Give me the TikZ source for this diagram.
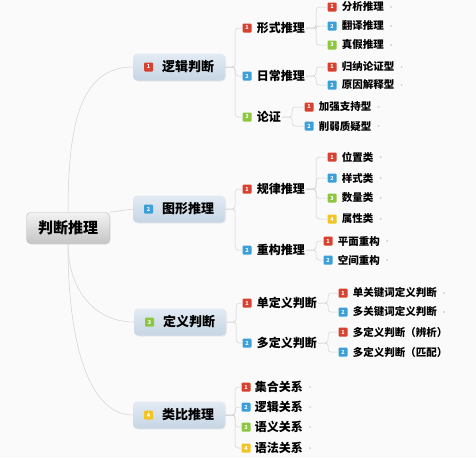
\documentclass[tikz,border=0pt]{standalone}
\usepackage{fontspec}
\setmainfont{Noto Sans CJK SC}[BoldFont={Noto Sans CJK SC Black}]
\usetikzlibrary{positioning,shadows}
\definecolor{iconred}{HTML}{D8412F}
\definecolor{iconblue}{HTML}{3B9FD9}
\definecolor{icongreen}{HTML}{8DC63F}
\definecolor{iconyellow}{HTML}{F2C524}
\definecolor{topictop}{HTML}{E3EBF4}
\definecolor{topicbot}{HTML}{C6D5E4}

\begin{document}
\begin{tikzpicture}[x=1pt,y=-1pt,
	root/.style={draw=gray!55, rounded corners=4pt, top color=gray!10, bottom color=gray!45, minimum width=83pt, minimum height=31pt, font=\fontsize{15}{15}\selectfont\bfseries, drop shadow={opacity=0.2,shadow xshift=1pt,shadow yshift=-1pt}},
	topic/.style={rounded corners=4pt, top color=topictop, bottom color=topicbot, minimum width=92pt, minimum height=27pt, font=\fontsize{13}{13}\selectfont\bfseries, drop shadow={opacity=0.12,shadow xshift=1pt,shadow yshift=-1pt}},
	icon/.style={fill=#1, rounded corners=1pt, minimum size=9pt, inner sep=0pt, text=white, font=\fontsize{5.5}{5.5}\selectfont\bfseries},
	sub/.style={inner sep=1pt, font=\fontsize{12}{12}\selectfont\bfseries},
	leaf/.style={inner sep=1pt, font=\fontsize{10.5}{10.5}\selectfont\bfseries},
	link/.style={draw=gray!35, line width=0.5pt, rounded corners=3pt},
	]
	
	\fill[gray!4] (0,0) rectangle (476,458);
	\useasboundingbox (0,0) rectangle (476,458);
	
	% root and main topics
	\node[root] (root) at (68,228) {判断推理};
	\node[topic] (logic) at (179,67) {\hspace{18pt}逻辑判断};
	\node[icon=iconred, right=11pt of logic.west] (logicI) {1};
	\node[topic] (figure) at (179,209) {\hspace{18pt}图形推理};
	\node[icon=iconblue, right=11pt of figure.west] (figureI) {2};
	\node[topic] (defn) at (180,322) {\hspace{18pt}定义判断};
	\node[icon=icongreen, right=11pt of defn.west] (defnI) {3};
	\node[topic] (analog) at (179,415) {\hspace{18pt}类比推理};
	\node[icon=iconyellow, right=11pt of analog.west] (analogI) {4};
	
	\draw[link] (root.north) .. controls (68,120) and (82,67) .. (logic.west);
	\draw[link] (root.north east) .. controls (118,211) .. (figure.west);
	\draw[link] (root.south) .. controls (68,290) and (95,322) .. (defn.west);
	\draw[link] (root.south) .. controls (68,360) and (95,415) .. (analog.west);
	
	% second level
	\node[icon=iconred] (formI) at (247,28) {1};
	\node[sub, right=4pt of formI] (form) {形式推理};
	\node[icon=iconblue] (dailyI) at (247,76) {2};
	\node[sub, right=4pt of dailyI] (daily) {日常推理};
	\node[icon=icongreen] (argI) at (247,117) {3};
	\node[sub, right=4pt of argI] (arg) {论证};
	
	\node[icon=iconred] (ruleI) at (247,189) {1};
	\node[sub, right=4pt of ruleI] (rule) {规律推理};
	\node[icon=iconblue] (rebuildI) at (247,250) {2};
	\node[sub, right=4pt of rebuildI] (rebuild) {重构推理};
	
	\node[icon=iconred] (singleI) at (247,303) {1};
	\node[sub, right=4pt of singleI] (single) {单定义判断};
	\node[icon=iconblue] (multiI) at (247,343) {2};
	\node[sub, right=4pt of multiI] (multi) {多定义判断};
	
	\node[icon=iconred] (setI) at (246,387) {1};
	\node[sub, right=3pt of setI] (set) {集合关系};
	\node[icon=iconblue] (lrelI) at (246,407) {2};
	\node[sub, right=3pt of lrelI] (lrel) {逻辑关系};
	\node[icon=icongreen] (semI) at (246,427) {3};
	\node[sub, right=3pt of semI] (sem) {语义关系};
	\node[icon=iconyellow] (gramI) at (246,448) {4};
	\node[sub, right=3pt of gramI] (gram) {语法关系};
	
	\draw[link] (logic.east) -- ++(10,0) |- (formI.west);
	\draw[link] (logic.east) -- ++(10,0) |- (dailyI.west);
	\draw[link] (logic.east) -- ++(10,0) |- (argI.west);
	\draw[link] (figure.east) -- ++(10,0) |- (ruleI.west);
	\draw[link] (figure.east) -- ++(10,0) |- (rebuildI.west);
	\draw[link] (defn.east) -- ++(10,0) |- (singleI.west);
	\draw[link] (defn.east) -- ++(10,0) |- (multiI.west);
	\draw[link] (analog.east) -- ++(10,0) |- (setI.west);
	\draw[link] (analog.east) -- ++(10,0) |- (lrelI.west);
	\draw[link] (analog.east) -- ++(10,0) |- (semI.west);
	\draw[link] (analog.east) -- ++(10,0) |- (gramI.west);
	
	% third level
	\node[icon=iconred] (anaI) at (332,7) {1};
	\node[leaf, right=4pt of anaI] (ana) {分析推理};
	\node[icon=iconblue] (transI) at (332,26) {2};
	\node[leaf, right=4pt of transI] (trans) {翻译推理};
	\node[icon=icongreen] (truthI) at (332,45) {3};
	\node[leaf, right=4pt of truthI] (truth) {真假推理};
	\node[icon=iconred] (inducI) at (332,67) {1};
	\node[leaf, right=4pt of inducI] (induc) {归纳论证型};
	\node[icon=iconblue] (causeI) at (332,85) {2};
	\node[leaf, right=4pt of causeI] (cause) {原因解释型};
	\node[icon=iconred] (strongI) at (309,107) {1};
	\node[leaf, right=4pt of strongI] (strong) {加强支持型};
	\node[icon=iconblue] (weakI) at (309,126) {2};
	\node[leaf, right=4pt of weakI] (weak) {削弱质疑型};
	
	\node[icon=iconred] (posI) at (332,157) {1};
	\node[leaf, right=4pt of posI] (pos) {位置类};
	\node[icon=iconblue] (styleI) at (332,178) {2};
	\node[leaf, right=4pt of styleI] (style) {样式类};
	\node[icon=icongreen] (countI) at (332,198) {3};
	\node[leaf, right=4pt of countI] (count) {数量类};
	\node[icon=iconyellow] (attrI) at (332,219) {4};
	\node[leaf, right=4pt of attrI] (attr) {属性类};
	\node[icon=iconred] (planeI) at (328,241) {1};
	\node[leaf, right=4pt of planeI] (plane) {平面重构};
	\node[icon=iconblue] (spaceI) at (328,260) {2};
	\node[leaf, right=4pt of spaceI] (space) {空间重构};
	
	\node[icon=iconred] (skeyI) at (343,293) {1};
	\node[leaf, right=4pt of skeyI] (skey) {单关键词定义判断};
	\node[icon=iconblue] (mkeyI) at (343,312) {2};
	\node[leaf, right=4pt of mkeyI] (mkey) {多关键词定义判断};
	\node[icon=iconred] (discI) at (343,332) {1};
	\node[leaf, right=4pt of discI] (disc) {多定义判断（辨析）};
	\node[icon=iconblue] (matchI) at (343,352) {2};
	\node[leaf, right=4pt of matchI] (match) {多定义判断（匹配）};
	
	\draw[link] (form.east) -- ++(10,0) |- (anaI.west);
	\draw[link] (form.east) -- ++(10,0) |- (transI.west);
	\draw[link] (form.east) -- ++(10,0) |- (truthI.west);
	\draw[link] (daily.east) -- ++(10,0) |- (inducI.west);
	\draw[link] (daily.east) -- ++(10,0) |- (causeI.west);
	\draw[link] (arg.east) -- ++(10,0) |- (strongI.west);
	\draw[link] (arg.east) -- ++(10,0) |- (weakI.west);
	\draw[link] (rule.east) -- ++(10,0) |- (posI.west);
	\draw[link] (rule.east) -- ++(10,0) |- (styleI.west);
	\draw[link] (rule.east) -- ++(10,0) |- (countI.west);
	\draw[link] (rule.east) -- ++(10,0) |- (attrI.west);
	\draw[link] (rebuild.east) -- ++(10,0) |- (planeI.west);
	\draw[link] (rebuild.east) -- ++(10,0) |- (spaceI.west);
	\draw[link] (single.east) -- ++(10,0) |- (skeyI.west);
	\draw[link] (single.east) -- ++(10,0) |- (mkeyI.west);
	\draw[link] (multi.east) -- ++(10,0) |- (discI.west);
	\draw[link] (multi.east) -- ++(10,0) |- (matchI.west);
	
	% collapse marks
	\foreach \n in {ana,trans,truth,induc,cause,strong,weak,pos,style,count,attr,plane,space,skey,mkey,set,lrel,sem,gram}
	\fill[gray!40] ([xshift=6pt]\n.east) circle (0.9pt);
	
\end{tikzpicture}
\end{document}
